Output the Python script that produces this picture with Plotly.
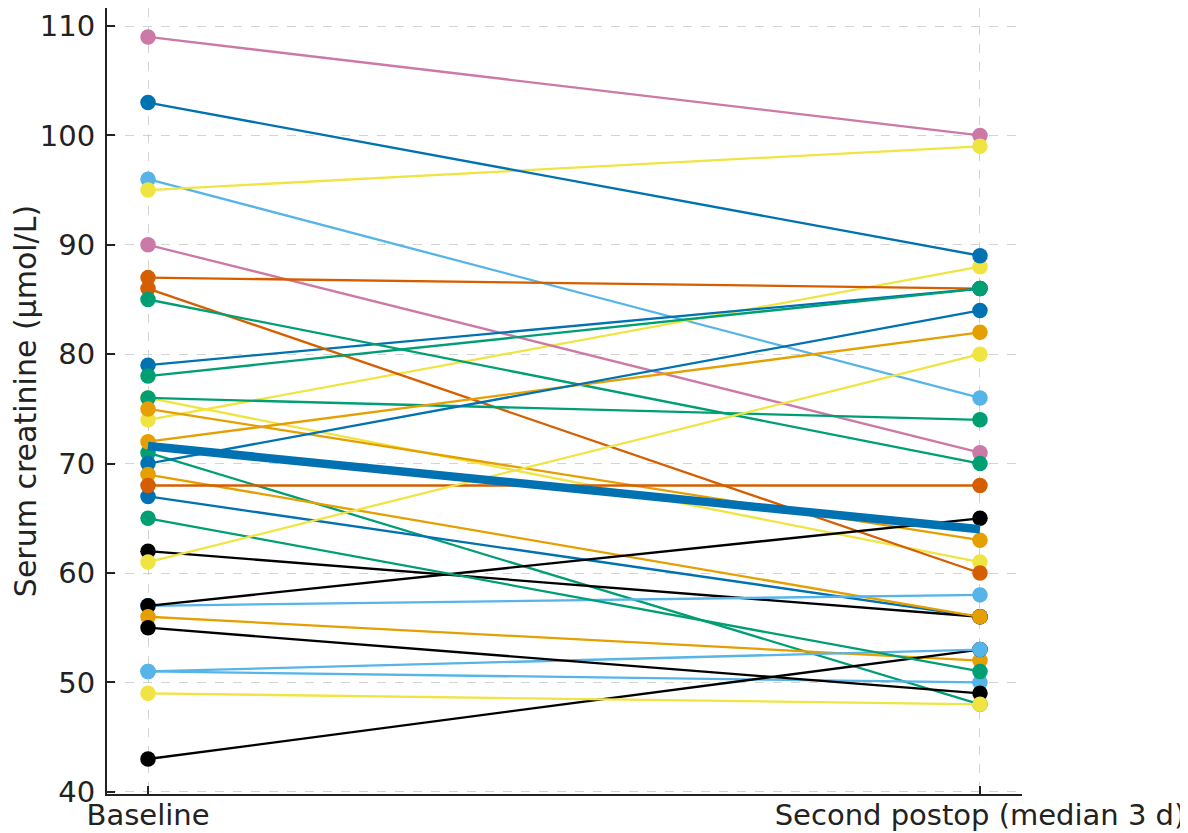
import plotly.graph_objects as go

# ---- data ----
timepoints = ["Baseline", "Second postop (median 3 d)"]
baseline = [109, 96, 95, 74, 103, 90, 76, 87, 79, 86, 85, 78, 76, 75, 71, 72, 70, 67, 62, 69, 68,
            57, 57, 56, 51, 43, 51, 65, 55, 61, 49]
postop = [100, 76, 99, 88, 89, 71, 61, 86, 86, 60, 70, 86, 74, 63, 48, 82, 84, 56, 56, 56, 68,
          58, 65, 52, 50, 53, 53, 51, 49, 80, 48]
color_keys = ["purple", "sky", "yellow", "yellow", "blue", "purple", "yellow", "verm", "blue", "verm",
              "green", "green", "green", "orange", "green", "orange", "blue", "blue", "black", "orange",
              "verm", "sky", "black", "orange", "sky", "black", "sky", "green", "black", "yellow", "yellow"]
summary = [71.6, 64.0]
y_ticks = [40, 50, 60, 70, 80, 90, 100, 110]

palette = {
    "black": "#000000", "orange": "#E69F00", "sky": "#56B4E9", "green": "#009E73",
    "yellow": "#F0E442", "blue": "#0072B2", "verm": "#D55E00", "purple": "#CC79A7",
}

fig = go.Figure()
x_pos = [0, 1]
for b, p, c in zip(baseline, postop, color_keys):
    fig.add_trace(go.Scatter(
        x=x_pos, y=[b, p], mode="lines+markers",
        line=dict(color=palette[c], width=2.3),
        marker=dict(color=palette[c], size=15.5, line=dict(width=0)),
        showlegend=False, hoverinfo="y",
    ))

fig.add_trace(go.Scatter(
    x=x_pos, y=summary, mode="lines",
    line=dict(color="#0072B2", width=8.5),
    showlegend=False,
))

font_color = "#222222"
# page body has an 8px default margin, so the figure is sized to the remaining area
fig.update_layout(
    width=1180, height=825,
    margin=dict(l=99, r=166, t=0, b=39),
    plot_bgcolor="white", paper_bgcolor="white",
    font=dict(family="DejaVu Sans", size=29, color=font_color),
    xaxis=dict(
        range=[-0.0493, 1.0505], tickmode="array", tickvals=x_pos, ticktext=timepoints,
        showgrid=True, gridcolor="#d3d3d3", griddash="dash", gridwidth=1,
        zeroline=False, showline=True, linecolor=font_color, linewidth=2,
        ticks="inside", ticklen=8, tickwidth=1.5, tickcolor=font_color,
        ticklabelstandoff=-6, automargin=False,
    ),
    yaxis=dict(
        range=[39.8, 111.645], tickmode="array", tickvals=y_ticks,
        showgrid=True, gridcolor="#d3d3d3", griddash="dash", gridwidth=1,
        zeroline=False, showline=True, linecolor=font_color, linewidth=2,
        ticks="inside", ticklen=8, tickwidth=1.5, tickcolor=font_color,
        ticklabelstandoff=4, automargin=False,
        title=dict(text="Serum creatinine (µmol/L)", standoff=17, font=dict(size=30)),
    ),
)

fig.write_html("out.html")
